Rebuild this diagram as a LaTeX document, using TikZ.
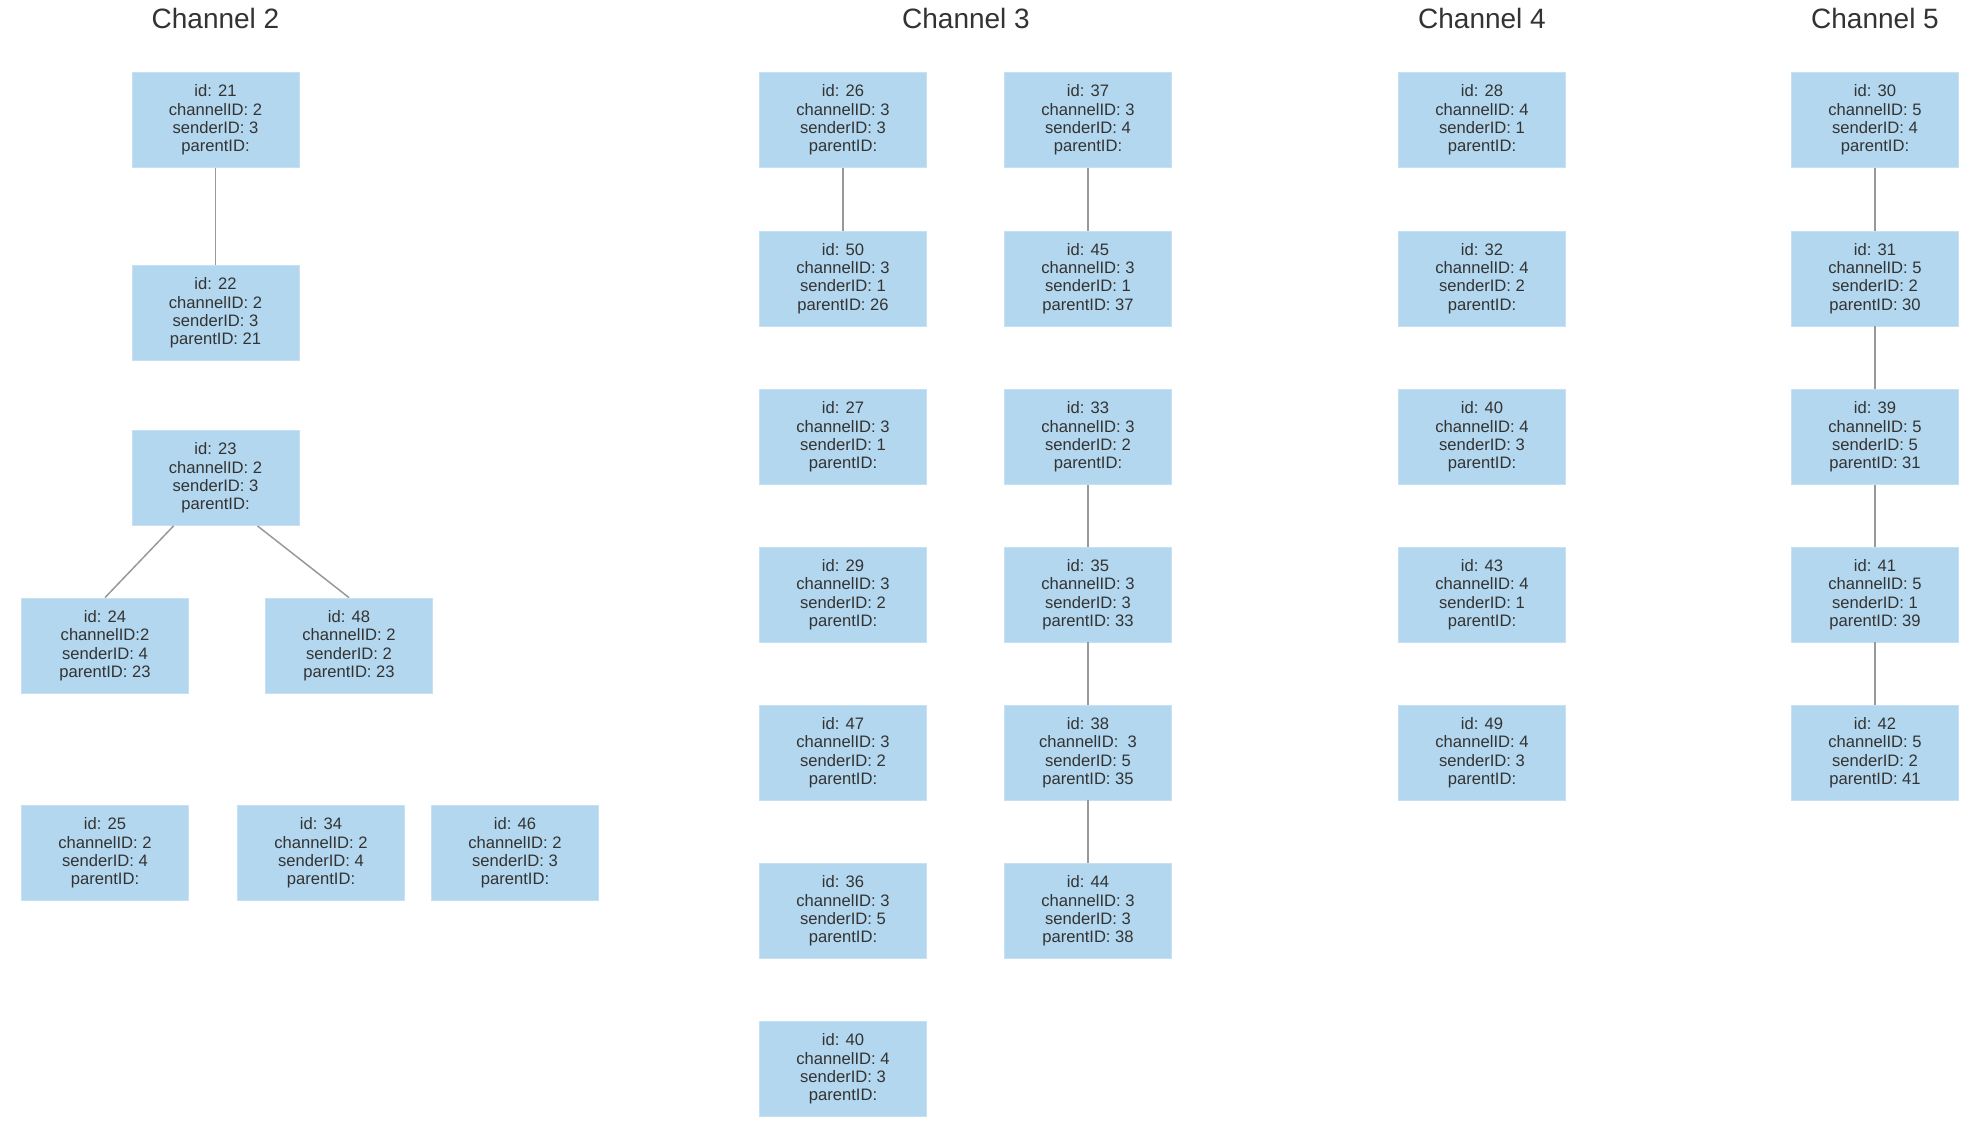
\documentclass[tikz,border=0pt]{standalone}
\usepackage{fontspec}
\setmainfont{Liberation Sans}
\usetikzlibrary{calc}
\definecolor{boxblue}{HTML}{B3D7EE}
\definecolor{boxrim}{HTML}{C6E1F3}
\definecolor{inkgray}{HTML}{333333}
\definecolor{linkgray}{HTML}{999999}
\tikzset{
  msgbox/.style={rectangle, fill=boxblue, draw=boxrim, line width=0.8pt,
    minimum width=167pt, minimum height=95pt, inner sep=0pt, align=center,
    text=inkgray, font=\fontsize{16.6}{18.4}\selectfont,
    execute at begin node={\rule{0pt}{17pt}}},
  chtitle/.style={anchor=base, text=inkgray, font=\fontsize{28}{32}\selectfont},
  link/.style={draw=linkgray, line width=1.5pt}
}
\begin{document}
\begin{tikzpicture}[x=1pt, y=-1pt]
\useasboundingbox (0,0) rectangle (1988,1135);
\fill[white] (0,0) rectangle (1988,1135);

% column headings
\node[chtitle] (t2) at (215.5,28.3) {Channel 2};
\node[chtitle] (t3) at (966,28.3) {Channel 3};
\node[chtitle] (t4) at (1482,28.3) {Channel 4};
\node[chtitle] (t5) at (1875,28.3) {Channel 5};

% channel 2
\node[msgbox] (n21) at (215.5,120) {id: 21\\channelID: 2\\senderID: 3\\parentID:};
\node[msgbox] (n22) at (215.5,313) {id: 22\\channelID: 2\\senderID: 3\\parentID: 21};
\node[msgbox] (n23) at (215.5,478) {id: 23\\channelID: 2\\senderID: 3\\parentID:};
\node[msgbox] (n24) at (105,645.5) {id: 24\\channelID:2\\senderID: 4\\parentID: 23};
\node[msgbox] (n48) at (349,645.5) {id: 48\\channelID: 2\\senderID: 2\\parentID: 23};
\node[msgbox] (n25) at (105,853) {id: 25\\channelID: 2\\senderID: 4\\parentID:};
\node[msgbox] (n34) at (321,853) {id: 34\\channelID: 2\\senderID: 4\\parentID:};
\node[msgbox] (n46) at (515,853) {id: 46\\channelID: 2\\senderID: 3\\parentID:};

% channel 3, first column
\node[msgbox] (n26) at (843,120) {id: 26\\channelID: 3\\senderID: 3\\parentID:};
\node[msgbox] (n50) at (843,278.5) {id: 50\\channelID: 3\\senderID: 1\\parentID: 26};
\node[msgbox] (n27) at (843,437) {id: 27\\channelID: 3\\senderID: 1\\parentID:};
\node[msgbox] (n29) at (843,594.5) {id: 29\\channelID: 3\\senderID: 2\\parentID:};
\node[msgbox] (n47) at (843,752.5) {id: 47\\channelID: 3\\senderID: 2\\parentID:};
\node[msgbox] (n36) at (843,911) {id: 36\\channelID: 3\\senderID: 5\\parentID:};
\node[msgbox] (n40b) at (843,1069) {id: 40\\channelID: 4\\senderID: 3\\parentID:};

% channel 3, second column
\node[msgbox] (n37) at (1088,120) {id: 37\\channelID: 3\\senderID: 4\\parentID:};
\node[msgbox] (n45) at (1088,278.5) {id: 45\\channelID: 3\\senderID: 1\\parentID: 37};
\node[msgbox] (n33) at (1088,437) {id: 33\\channelID: 3\\senderID: 2\\parentID:};
\node[msgbox] (n35) at (1088,594.5) {id: 35\\channelID: 3\\senderID: 3\\parentID: 33};
\node[msgbox] (n38) at (1088,752.5) {id: 38\\channelID: \ 3\\senderID: 5\\parentID: 35};
\node[msgbox] (n44) at (1088,911) {id: 44\\channelID: 3\\senderID: 3\\parentID: 38};

% channel 4
\node[msgbox] (n28) at (1482,120) {id: 28\\channelID: 4\\senderID: 1\\parentID:};
\node[msgbox] (n32) at (1482,278.5) {id: 32\\channelID: 4\\senderID: 2\\parentID:};
\node[msgbox] (n40) at (1482,437) {id: 40\\channelID: 4\\senderID: 3\\parentID:};
\node[msgbox] (n43) at (1482,594.5) {id: 43\\channelID: 4\\senderID: 1\\parentID:};
\node[msgbox] (n49) at (1482,752.5) {id: 49\\channelID: 4\\senderID: 3\\parentID:};

% channel 5
\node[msgbox] (n30) at (1875,120) {id: 30\\channelID: 5\\senderID: 4\\parentID:};
\node[msgbox] (n31) at (1875,278.5) {id: 31\\channelID: 5\\senderID: 2\\parentID: 30};
\node[msgbox] (n39) at (1875,437) {id: 39\\channelID: 5\\senderID: 5\\parentID: 31};
\node[msgbox] (n41) at (1875,594.5) {id: 41\\channelID: 5\\senderID: 1\\parentID: 39};
\node[msgbox] (n42) at (1875,752.5) {id: 42\\channelID: 5\\senderID: 2\\parentID: 41};

% reply links
\draw[link] (n21.south) -- (n22.north);
\draw[link] ($(n23.south west)!0.25!(n23.south east)$) -- (n24.north);
\draw[link] ($(n23.south west)!0.75!(n23.south east)$) -- (n48.north);
\draw[link] (n26.south) -- (n50.north);
\draw[link] (n37.south) -- (n45.north);
\draw[link] (n33.south) -- (n35.north);
\draw[link] (n35.south) -- (n38.north);
\draw[link] (n38.south) -- (n44.north);
\draw[link] (n30.south) -- (n31.north);
\draw[link] (n31.south) -- (n39.north);
\draw[link] (n39.south) -- (n41.north);
\draw[link] (n41.south) -- (n42.north);
\end{tikzpicture}
\end{document}
